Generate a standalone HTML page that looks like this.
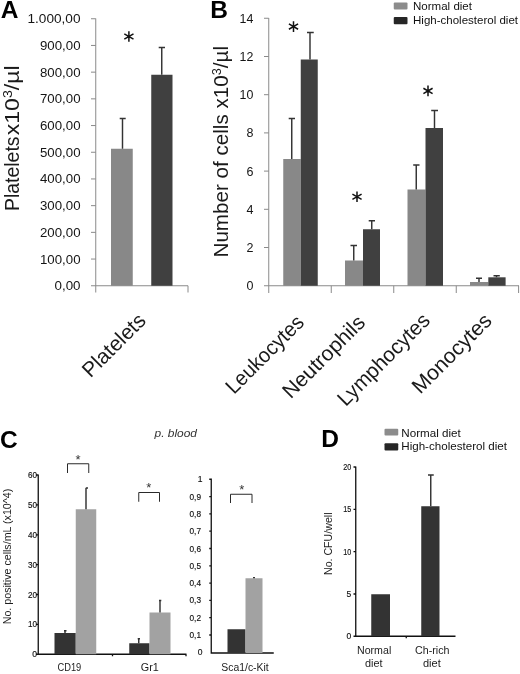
<!DOCTYPE html>
<html><head><meta charset="utf-8"><title>Figure</title>
<style>
html,body{margin:0;padding:0;background:#fff;}
svg{display:block;font-family:"Liberation Sans",sans-serif;filter:blur(0.35px);}
.ax{stroke:#8a8a8a;stroke-width:1;fill:none;}
.bk{stroke:#111;stroke-width:1.3;fill:none;}
.br{stroke:#2a2a2a;stroke-width:1;fill:none;}
.eb{stroke:#333;stroke-width:1.45;fill:none;}
.g{fill:#888;}
.d{fill:#404040;}
.lg{fill:#a2a2a2;}
.dk{fill:#333;}
.tk{font-size:12.5px;fill:#151515;text-anchor:end;}
.big{font-size:21px;fill:#1a1a1a;}
.pl{font-size:24.5px;font-weight:bold;fill:#000;}
.ast{font-size:22px;fill:#111;text-anchor:middle;}
.sm{font-size:8.5px;fill:#111;text-anchor:end;stroke:#111;stroke-width:0.15;}
.lb{font-size:10px;fill:#1c1c1c;}
.leg{font-size:10.5px;fill:#111;}
</style></head><body>
<svg width="520" height="674" viewBox="0 0 520 674">
<rect width="520" height="674" fill="#fff"/>

<!-- ===== Panel A ===== -->
<g id="A">
<text class="pl" x="0.8" y="18.3">A</text>
<path class="ax" d="M95.75 18.5V292.5 M91 18.75H95.75 M91 45.45H95.75 M91 72.15H95.75 M91 98.85H95.75 M91 125.55H95.75 M91 152.25H95.75 M91 178.95H95.75 M91 205.65H95.75 M91 232.35H95.75 M91 259.05H95.75 M91 285.75H188 M188 285.75V292.5"/>
<g class="tk">
<text x="80.5" y="23.25" textLength="53" lengthAdjust="spacingAndGlyphs">1.000,00</text>
<text x="80.5" y="49.95" textLength="40.5" lengthAdjust="spacingAndGlyphs">900,00</text>
<text x="80.5" y="76.65" textLength="40.5" lengthAdjust="spacingAndGlyphs">800,00</text>
<text x="80.5" y="103.35" textLength="40.5" lengthAdjust="spacingAndGlyphs">700,00</text>
<text x="80.5" y="130.05" textLength="40.5" lengthAdjust="spacingAndGlyphs">600,00</text>
<text x="80.5" y="156.75" textLength="40.5" lengthAdjust="spacingAndGlyphs">500,00</text>
<text x="80.5" y="183.45" textLength="40.5" lengthAdjust="spacingAndGlyphs">400,00</text>
<text x="80.5" y="210.15" textLength="40.5" lengthAdjust="spacingAndGlyphs">300,00</text>
<text x="80.5" y="236.85" textLength="40.5" lengthAdjust="spacingAndGlyphs">200,00</text>
<text x="80.5" y="263.55" textLength="40.5" lengthAdjust="spacingAndGlyphs">100,00</text>
<text x="80.5" y="290.25" textLength="26" lengthAdjust="spacingAndGlyphs">0,00</text>
</g>
<rect class="g" x="111" y="148.75" width="21.75" height="137"/>
<rect class="d" x="151.25" y="74.75" width="21.25" height="211"/>
<path class="eb" d="M122.5 148.75V118.5 M119.7 118.5H125.7 M161.75 74.75V47.5 M158.7 47.5H165"/>
<path d="M128.90 31.20L128.90 41.80M124.31 33.85L133.49 39.15M133.49 33.85L124.31 39.15" stroke="#111" stroke-width="1.5" fill="none"/>
<text class="big" transform="translate(18.5,211) rotate(-90)" textLength="74.5" lengthAdjust="spacingAndGlyphs">Platelets</text>
<text class="big" transform="translate(18.5,135.3) rotate(-90)" textLength="70" lengthAdjust="spacingAndGlyphs">x10<tspan font-size="13" dy="-7">3</tspan><tspan dy="7">/µl</tspan></text>
<text class="big" transform="translate(90.5,378.5) rotate(-45)" textLength="80" lengthAdjust="spacingAndGlyphs">Platelets</text>
</g>

<!-- ===== Panel B ===== -->
<g id="B">
<text class="pl" x="210.3" y="18.3">B</text>
<path class="ax" d="M268.75 18V293 M264 18.25H268.75 M264 56.5H268.75 M264 94.7H268.75 M264 132.9H268.75 M264 171.1H268.75 M264 209.3H268.75 M264 247.5H268.75 M264 285.75H519 M331.25 285.75V293 M393.75 285.75V293 M456.25 285.75V293 M518.6 285.75V293"/>
<g class="tk">
<text x="253.4" y="22.75" textLength="13.8" lengthAdjust="spacingAndGlyphs">14</text>
<text x="253.4" y="60.95" textLength="13.8" lengthAdjust="spacingAndGlyphs">12</text>
<text x="253.4" y="99.15" textLength="13.8" lengthAdjust="spacingAndGlyphs">10</text>
<text x="253.4" y="137.35">8</text>
<text x="253.4" y="175.55">6</text>
<text x="253.4" y="213.75">4</text>
<text x="253.4" y="251.95">2</text>
<text x="253.4" y="290.25">0</text>
</g>
<rect class="g" x="283.25" y="159" width="17.5" height="126.75"/>
<rect class="d" x="300.75" y="59.5" width="17" height="226.25"/>
<rect class="g" x="345" y="260.5" width="18" height="25.25"/>
<rect class="d" x="363" y="229.25" width="17" height="56.5"/>
<rect class="g" x="407.5" y="189.5" width="18" height="96.25"/>
<rect class="d" x="425.5" y="128" width="17.5" height="157.75"/>
<rect class="g" x="470" y="282" width="18.3" height="3.75"/>
<rect class="d" x="488.3" y="277.3" width="17.3" height="8.45"/>
<path class="eb" d="M291.75 159V118.5 M288.7 118.5H295 M310 59.5V32.5 M307 32.5H313.75 M353.75 260.5V245.5 M350.5 245.5H357 M371.75 229.25V220.75 M368.7 220.75H375 M416.25 189.5V165 M413.2 165H419.5 M434.5 128V110.5 M431.2 110.5H438 M479 282V278.3 M476 278.3H482 M496.5 277.3V275.8 M493.5 275.8H499.8"/>
<path d="M293.50 21.30L293.50 31.90M288.91 23.95L298.09 29.25M298.09 23.95L288.91 29.25" stroke="#111" stroke-width="1.5" fill="none"/>
<path d="M357.00 191.45L357.00 202.05M352.41 194.10L361.59 199.40M361.59 194.10L352.41 199.40" stroke="#111" stroke-width="1.5" fill="none"/>
<path d="M428.00 85.60L428.00 96.20M423.41 88.25L432.59 93.55M432.59 88.25L423.41 93.55" stroke="#111" stroke-width="1.5" fill="none"/>
<text class="big" transform="translate(228.3,257.5) rotate(-90)" textLength="211.5" lengthAdjust="spacingAndGlyphs">Number of cells x10<tspan font-size="13" dy="-7">3</tspan><tspan dy="7">/µl</tspan></text>
<text class="big" transform="translate(234,395) rotate(-45)" textLength="101" lengthAdjust="spacingAndGlyphs">Leukocytes</text>
<text class="big" transform="translate(290.75,399.5) rotate(-45)" textLength="107" lengthAdjust="spacingAndGlyphs">Neutrophils</text>
<text class="big" transform="translate(345.75,407.25) rotate(-45)" textLength="121" lengthAdjust="spacingAndGlyphs">Lymphocytes</text>
<text class="big" transform="translate(420.25,394.75) rotate(-45)" textLength="103" lengthAdjust="spacingAndGlyphs">Monocytes</text>
<rect x="393.75" y="2.5" width="13.75" height="7" rx="1" fill="#8c8c8c"/>
<rect x="393.75" y="17" width="13.75" height="7.25" rx="1" fill="#262626"/>
<text class="leg" x="413" y="10" textLength="59" lengthAdjust="spacingAndGlyphs">Normal diet</text>
<text class="leg" x="413" y="23.75" textLength="105" lengthAdjust="spacingAndGlyphs">High-cholesterol diet</text>
</g>

<!-- ===== Panel C ===== -->
<g id="C">
<text class="pl" x="0" y="447.6">C</text>
<text x="154.5" y="437" font-size="10" font-style="italic" fill="#333" textLength="42.5" lengthAdjust="spacingAndGlyphs">p. blood</text>
<path class="bk" d="M38.25 474.5V654.25H186.5 M36 475H38.25 M36 504.9H38.25 M36 534.8H38.25 M36 564.6H38.25 M36 594.5H38.25 M36 624.4H38.25 M36 654.25H38.25 M112.5 654.25V656.3 M186 654.25V656.3"/>
<g class="sm">
<text x="37" y="478" textLength="9" lengthAdjust="spacingAndGlyphs">60</text>
<text x="37" y="507.9" textLength="9" lengthAdjust="spacingAndGlyphs">50</text>
<text x="37" y="537.8" textLength="9" lengthAdjust="spacingAndGlyphs">40</text>
<text x="37" y="567.6" textLength="9" lengthAdjust="spacingAndGlyphs">30</text>
<text x="37" y="597.5" textLength="9" lengthAdjust="spacingAndGlyphs">20</text>
<text x="37" y="627.4" textLength="9" lengthAdjust="spacingAndGlyphs">10</text>
<text x="37" y="657.2">0</text>
</g>
<rect class="dk" x="54.5" y="633" width="21.25" height="21.25"/>
<rect class="lg" x="75.75" y="509.25" width="20.5" height="145"/>
<rect class="dk" x="129.25" y="643.25" width="20.25" height="11"/>
<rect class="lg" x="149.5" y="612.5" width="21" height="41.75"/>
<path class="eb" d="M65 633V630.75 M64 630.75H66.5 M86 509.25V488 M85.8 488H88 M138.75 643.25V638.75 M137.7 638.75H140 M160 612.5V600.5 M159 600.5H161.3"/>
<path class="br" d="M67.5 473V463.75H88.75V473 M138.75 501.75V492.5H159.5V501.75 M230.5 503V494.25H252V503"/>
<g font-size="13" fill="#333" text-anchor="middle">
<text x="78" y="464.4">*</text>
<text x="148.75" y="492.4">*</text>
<text x="241.75" y="494.2">*</text>
</g>
<text class="lb" style="font-size:10.4px" transform="translate(11.3,624.25) rotate(-90)" textLength="135.5" lengthAdjust="spacingAndGlyphs">No. positive cells/mL (x10^4)</text>
<text class="lb" x="57.5" y="670.75" textLength="23.75" lengthAdjust="spacingAndGlyphs">CD19</text>
<text class="lb" x="140.75" y="670.5" textLength="18" lengthAdjust="spacingAndGlyphs">Gr1</text>
<text class="lb" x="221.25" y="670.5" textLength="47.5" lengthAdjust="spacingAndGlyphs">Sca1/c-Kit</text>

<path class="bk" d="M211.25 478.5V653H273.75 M209.25 479.25H211.25 M209.25 496.6H211.25 M209.25 513.9H211.25 M209.25 531.2H211.25 M209.25 548.5H211.25 M209.25 565.8H211.25 M209.25 583.1H211.25 M209.25 600.4H211.25 M209.25 617.7H211.25 M209.25 635H211.25"/>
<g class="sm">
<text x="202.5" y="482.2">1</text>
<text x="201" y="499.6" textLength="11.5" lengthAdjust="spacingAndGlyphs">0,9</text>
<text x="201" y="516.9" textLength="11.5" lengthAdjust="spacingAndGlyphs">0,8</text>
<text x="201" y="534.2" textLength="11.5" lengthAdjust="spacingAndGlyphs">0,7</text>
<text x="201" y="551.5" textLength="11.5" lengthAdjust="spacingAndGlyphs">0,6</text>
<text x="201" y="568.8" textLength="11.5" lengthAdjust="spacingAndGlyphs">0,5</text>
<text x="201" y="586.1" textLength="11.5" lengthAdjust="spacingAndGlyphs">0,4</text>
<text x="201" y="603.4" textLength="11.5" lengthAdjust="spacingAndGlyphs">0,3</text>
<text x="201" y="620.7" textLength="11.5" lengthAdjust="spacingAndGlyphs">0,2</text>
<text x="201" y="638" textLength="11.5" lengthAdjust="spacingAndGlyphs">0,1</text>
<text x="202.5" y="655">0</text>
</g>
<rect class="dk" x="227.5" y="629.25" width="18" height="23.75"/>
<rect class="lg" x="245.5" y="578.25" width="17" height="74.75"/>
<path class="eb" d="M253 577.6H255"/>
</g>

<!-- ===== Panel D ===== -->
<g id="D">
<text class="pl" x="321.3" y="446.5">D</text>
<rect x="384.5" y="428.75" width="13.75" height="6.75" rx="1" fill="#8c8c8c"/>
<rect x="384.5" y="443.25" width="13.75" height="7.25" rx="1" fill="#262626"/>
<text class="leg" x="401.25" y="436.5" textLength="59.5" lengthAdjust="spacingAndGlyphs">Normal diet</text>
<text class="leg" x="401.25" y="450" textLength="105.75" lengthAdjust="spacingAndGlyphs">High-cholesterol diet</text>
<path class="bk" d="M355.75 466.5V636.25H455.5 M353.5 467H355.75 M353.5 509.3H355.75 M353.5 551.7H355.75 M353.5 594H355.75 M353.5 636.25H355.75 M406.25 636.25V638.3"/>
<g class="sm">
<text x="351.25" y="470" textLength="8" lengthAdjust="spacingAndGlyphs">20</text>
<text x="351.25" y="512.3" textLength="8" lengthAdjust="spacingAndGlyphs">15</text>
<text x="351.25" y="554.7" textLength="8" lengthAdjust="spacingAndGlyphs">10</text>
<text x="351.25" y="597">5</text>
<text x="351.25" y="639.3">0</text>
</g>
<rect class="dk" x="371.25" y="594.25" width="18.75" height="42"/>
<rect class="dk" x="421.25" y="506.25" width="18.25" height="130"/>
<path class="eb" d="M430.75 506.25V475 M428 475H433.75"/>
<text class="lb" font-size="10.5" style="font-size:10.5px" transform="translate(332.3,575) rotate(-90)" textLength="62.5" lengthAdjust="spacingAndGlyphs">No. CFU/well</text>
<text class="lb" x="357" y="653.75" textLength="34.25" lengthAdjust="spacingAndGlyphs">Normal</text>
<text class="lb" x="365" y="666.75" textLength="17.5" lengthAdjust="spacingAndGlyphs">diet</text>
<text class="lb" x="415" y="653.75" textLength="34.5" lengthAdjust="spacingAndGlyphs">Ch-rich</text>
<text class="lb" x="423" y="666.75" textLength="17.75" lengthAdjust="spacingAndGlyphs">diet</text>
</g>
</svg>
</body></html>
